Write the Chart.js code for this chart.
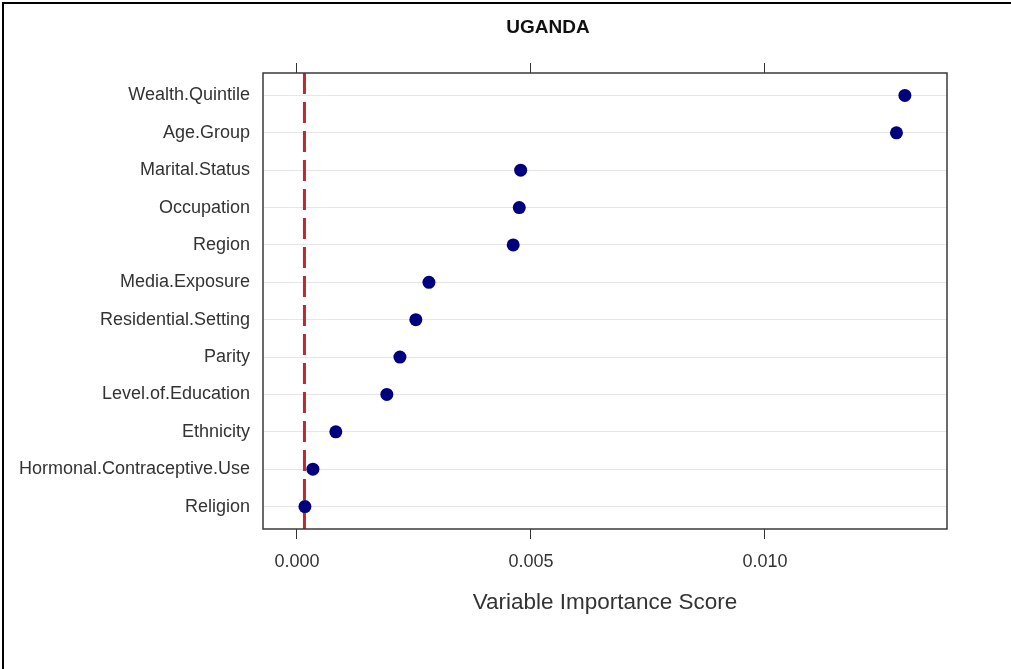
<!DOCTYPE html>
<html>
<head>
  <title>Uganda variable importance</title>
  <script src="https://cdn.jsdelivr.net/npm/chart.js@4.4.1/dist/chart.umd.min.js"></script>
  <style>
    body { margin: 0; background: #fff; }
  </style>
</head>
<body>
  <div style="position: relative; width:1011px; height:669px;">
    <canvas id="dots" width="1011" height="669"></canvas>
  </div>
  <script>
    // categories, top to bottom
    var variables = ["Wealth.Quintile", "Age.Group", "Marital.Status", "Occupation", "Region",
      "Media.Exposure", "Residential.Setting", "Parity", "Level.of.Education", "Ethnicity",
      "Hormonal.Contraceptive.Use", "Religion"];
    var scores = [0.01299, 0.01281, 0.00478, 0.00475, 0.00462, 0.00282, 0.00254, 0.00220,
      0.00192, 0.00083, 0.00034, 0.00017];
    var cutoff = 0.00016;
    var xTicks = [0.000, 0.005, 0.010];
    var xMin = -0.000726, xMax = 0.01389;

    var n = variables.length;
    var points = [];
    for (var i = 0; i < n; i++) {
      points.push({ x: scores[i], y: n - i });
    }

    var setXTicks = function(s) { s.ticks = xTicks.map(function(v) { return { value: v }; }); };

    var frame = {
      id: 'frame',
      afterDraw: function(chart) {
        var ctx = chart.ctx, a = chart.chartArea;
        ctx.save();
        ctx.strokeStyle = '#3a3a3a';
        ctx.lineWidth = 1.5;
        ctx.strokeRect(a.left, a.top, a.right - a.left, a.bottom - a.top);
        // outer picture border
        ctx.strokeStyle = '#000';
        ctx.lineWidth = 2;
        ctx.beginPath();
        ctx.moveTo(3, 669);
        ctx.lineTo(3, 3);
        ctx.lineTo(1011, 3);
        ctx.stroke();
        ctx.textAlign = 'center';
        ctx.textBaseline = 'middle';
        ctx.fillStyle = '#111';
        ctx.font = 'bold 19px "Liberation Sans", Arial, sans-serif';
        ctx.fillText('UGANDA', 548, 28);
        ctx.fillStyle = '#333';
        ctx.font = '22.5px "Liberation Sans", Arial, sans-serif';
        ctx.fillText('Variable Importance Score', 605, 603);
        ctx.restore();
      }
    };

    new Chart(document.getElementById("dots"), {
      type: 'scatter',
      data: {
        datasets: [{
          data: points,
          backgroundColor: '#00007f',
          borderWidth: 0,
          pointRadius: 6.5,
          xAxisID: 'x',
          yAxisID: 'y'
        }, {
          type: 'line',
          data: [{ x: cutoff, y: 0.4 }, { x: cutoff, y: 12.6 }],
          borderColor: '#c0282d',
          borderWidth: 3,
          borderDash: [21, 8],
          pointRadius: 0,
          fill: false,
          xAxisID: 'x',
          yAxisID: 'y'
        }]
      },
      options: {
        responsive: false,
        animation: false,
        layout: { padding: { left: 0, right: 64, top: 0, bottom: 0 } },
        plugins: { legend: { display: false }, tooltip: { enabled: false }, title: { display: false } },
        scales: {
          x: {
            type: 'linear', position: 'bottom', min: xMin, max: xMax,
            afterBuildTicks: setXTicks,
            afterFit: function(s) { s.height = 140; },
            ticks: {
              callback: function(v) { return v.toFixed(3); },
              color: '#333', padding: 12,
              font: { family: '"Liberation Sans", Arial, sans-serif', size: 18 }
            },
            grid: { drawOnChartArea: false, drawTicks: true, tickLength: 10, color: '#333' },
            border: { display: false }
          },
          x2: {
            type: 'linear', position: 'top', min: xMin, max: xMax,
            afterBuildTicks: setXTicks,
            afterFit: function(s) { s.height = 73; },
            ticks: { display: false },
            grid: { drawOnChartArea: false, drawTicks: true, tickLength: 10, color: '#333' },
            border: { display: false }
          },
          y: {
            type: 'linear', min: 0.4, max: 12.6,
            afterBuildTicks: function(s) {
              s.ticks = variables.map(function(_, i) { return { value: n - i }; });
            },
            afterFit: function(s) { s.width = 263; },
            ticks: {
              autoSkip: false,
              callback: function(v) { return variables[n - v]; },
              color: '#333', padding: 13,
              font: { family: '"Liberation Sans", Arial, sans-serif', size: 18 }
            },
            grid: { drawTicks: false, color: '#e6e6e6' },
            border: { display: false }
          }
        }
      },
      plugins: [frame]
    });
  </script>
</body>
</html>
